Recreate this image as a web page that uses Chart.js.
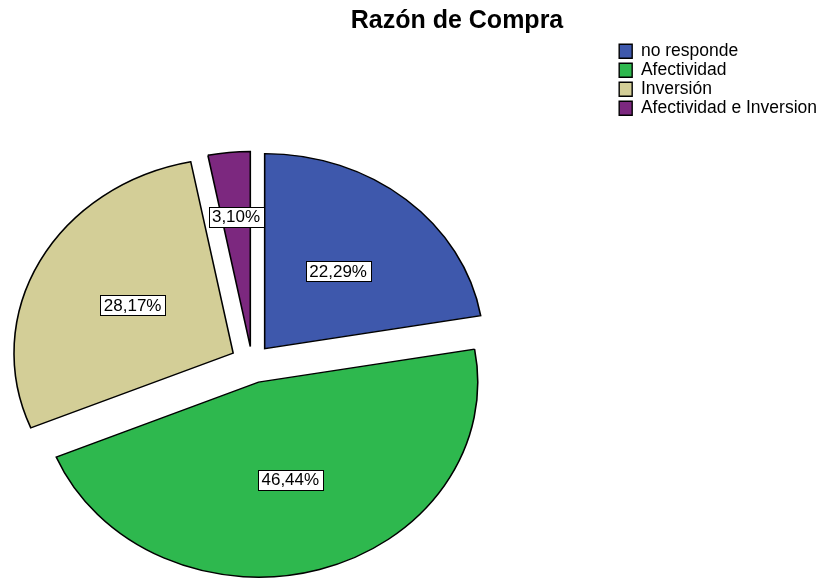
<!DOCTYPE html>
<html>
<head>
<meta charset="utf-8">
<title>Razón de Compra</title>
<script src="https://cdn.jsdelivr.net/npm/chart.js@4.4.0/dist/chart.umd.min.js"></script>
<style>
    html, body { margin: 0; padding: 0; background: #ffffff; }
    #wrap { width: 820px; height: 578px; }
</style>
</head>
<body>
<div id="wrap"><canvas id="razonChart" width="820" height="578"></canvas></div>
<script>
// Data
var categories = ['no responde', 'Afectividad', 'Inversión', 'Afectividad e Inversion'];
var percentages = [22.29, 46.44, 28.17, 3.10];

// Look
var sliceColors = ['#3e58ac', '#2eb84e', '#d3ce97', '#7c287f'];
var explodePx = [17.5, 21, 19, 15.5];       // how far each slice is pulled out
var labelRadius = [0.52, 0.52, 0.52, 0.67]; // label distance, share of radius
var pieRadius = 195;
var stretchX = 1.124;                       // pie is drawn a bit wider than tall
var pieCenter = { x: 252, y: 362 };
var fontFamily = '"Liberation Sans", Arial, sans-serif';

function pctText(v) {
    return v.toFixed(2).replace('.', ',') + '%';
}

// exploded, oval pie with boxed percentages
var ovalPie = {
    id: 'ovalPie',
    afterDatasetsUpdate: function (chart) {
        // pull each slice out along its middle angle (Chart.js' own offset
        // also grows the radius of narrow slices, so it is done here)
        chart.getDatasetMeta(0).data.forEach(function (arc, i) {
            var mid = (arc.startAngle + arc.endAngle) / 2;
            arc.x += Math.cos(mid) * explodePx[i];
            arc.y += Math.sin(mid) * explodePx[i];
        });
    },
    beforeDatasetsDraw: function (chart) {
        var ctx = chart.ctx;
        var a = chart.chartArea;
        ctx.save();
        ctx.translate(pieCenter.x, pieCenter.y);
        ctx.scale(stretchX, 1);
        ctx.translate(-(a.left + a.right) / 2, -(a.top + a.bottom) / 2);
    },
    afterDatasetsDraw: function (chart) {
        var ctx = chart.ctx;
        ctx.restore();

        var meta = chart.getDatasetMeta(0);
        ctx.save();
        ctx.font = '17px ' + fontFamily;
        ctx.textAlign = 'center';
        ctx.textBaseline = 'middle';
        ctx.lineWidth = 1;
        meta.data.forEach(function (arc, i) {
            var mid = (arc.startAngle + arc.endAngle) / 2;
            var r = explodePx[i] + labelRadius[i] * arc.outerRadius;
            var x = pieCenter.x + Math.cos(mid) * r * stretchX;
            var y = pieCenter.y + Math.sin(mid) * r;
            var txt = pctText(percentages[i]);
            var w = Math.round(ctx.measureText(txt).width + 7);
            var h = 20;
            var bx = Math.round(x - w / 2) + 0.5;
            var by = Math.round(y - h / 2) + 0.5;
            ctx.fillStyle = '#ffffff';
            ctx.fillRect(bx, by, w, h);
            ctx.strokeStyle = '#000000';
            ctx.strokeRect(bx, by, w, h);
            ctx.fillStyle = '#000000';
            ctx.fillText(txt, x, y + 1);
        });
        ctx.restore();
    }
};

var ctx = document.getElementById('razonChart').getContext('2d');
var razonChart = new Chart(ctx, {
    type: 'pie',
    data: {
        labels: categories,
        datasets: [{
            data: percentages,
            backgroundColor: sliceColors,
            borderColor: '#000000',
            borderWidth: 1.4,
            borderJoinStyle: 'miter',
            hoverOffset: 0,
            radius: pieRadius
        }]
    },
    options: {
        responsive: false,
        animation: false,
        events: [],
        layout: {
            padding: { left: 87, right: -7, top: 0, bottom: 0 }
        },
        plugins: {
            title: {
                display: true,
                text: 'Razón de Compra',
                color: '#000000',
                font: { family: fontFamily, size: 25, weight: 'bold' },
                padding: { top: 6, bottom: 5 }
            },
            legend: {
                display: true,
                position: 'right',
                align: 'start',
                fullSize: false,
                labels: {
                    color: '#000000',
                    boxWidth: 13,
                    boxHeight: 14,
                    padding: 1.5,
                    font: { family: fontFamily, size: 17.5 }
                }
            },
            tooltip: { enabled: false }
        }
    },
    plugins: [ovalPie]
});
</script>
</body>
</html>
